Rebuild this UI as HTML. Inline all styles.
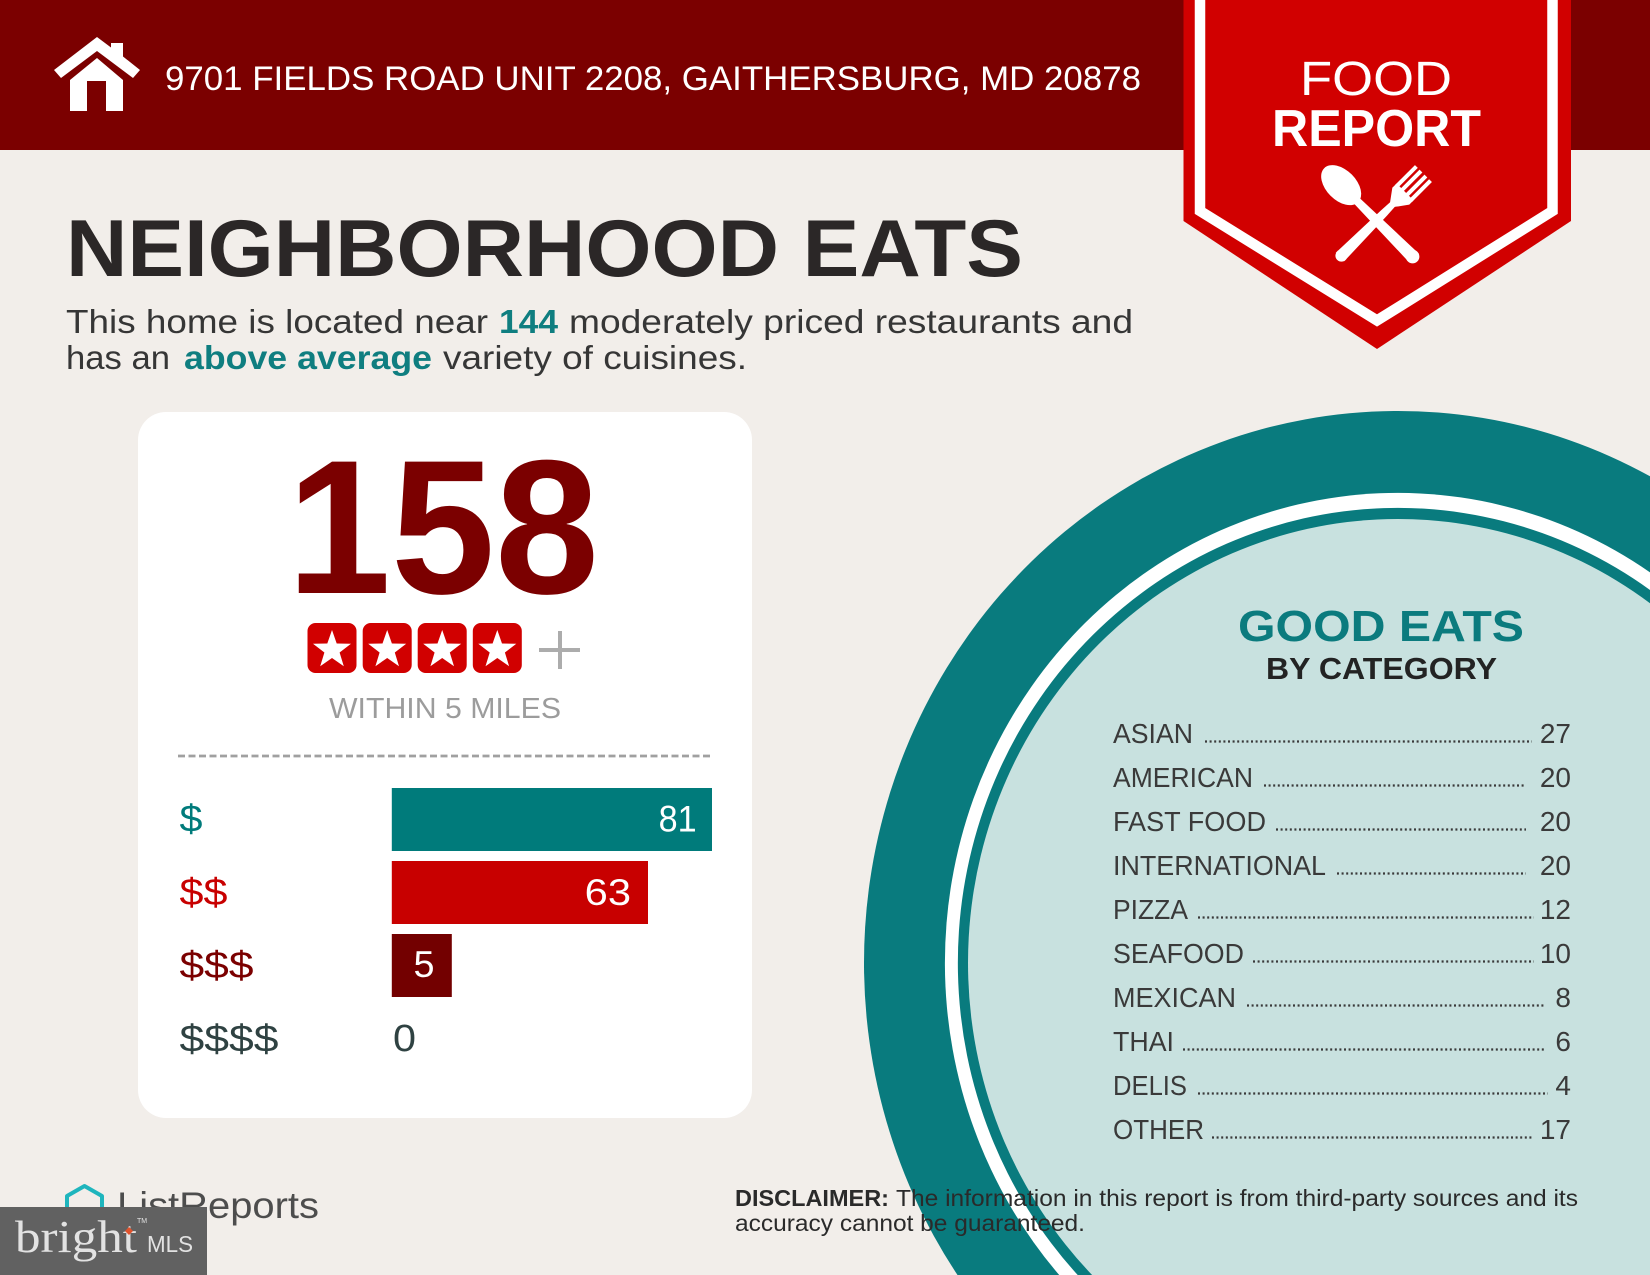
<!DOCTYPE html>
<html>
<head>
<meta charset="utf-8">
<style>
html,body{margin:0;padding:0;background:#f2eeea;width:1650px;height:1275px;overflow:hidden;}
svg{display:block;}
text{font-family:"Liberation Sans",sans-serif;}
</style>
</head>
<body>
<svg width="1650" height="1275" viewBox="0 0 1650 1275" xmlns="http://www.w3.org/2000/svg" style="overflow:hidden">
<defs>
<path id="star" d="M0,-20 L4.7,-6.5 L19,-6.2 L7.6,2.5 L11.8,16.2 L0,8 L-11.8,16.2 L-7.6,2.5 L-19,-6.2 L-4.7,-6.5 Z" fill="#ffffff"/>
</defs>
<rect width="1650" height="1275" fill="#f2eeea"/>
<!-- header band -->
<rect x="0" y="0" width="1650" height="150" fill="#7b0000"/>
<!-- house icon -->
<polygon points="54,70 97,37 111,47.5 111,43 123,43 123,56.5 140,70 133,78 97,51 61,78" fill="#ffffff"/>
<polygon points="70,111 70,80 97,58 123,80 123,111" fill="#ffffff"/>
<rect x="87" y="81" width="19" height="30" fill="#7b0000"/>
<text x="165" y="90" font-size="34" fill="#ffffff" textLength="976" lengthAdjust="spacingAndGlyphs">9701 FIELDS ROAD UNIT 2208, GAITHERSBURG, MD 20878</text>

<!-- banner -->
<polygon points="1183.5,0 1571,0 1571,221 1377,349 1183.5,221" fill="#d10000"/>
<polyline points="1200,0 1200,211 1377,320.5 1552.5,211 1552.5,0" fill="none" stroke="#ffffff" stroke-width="10.5"/>
<text x="1300" y="95" font-size="48" fill="#ffffff" textLength="152" lengthAdjust="spacingAndGlyphs">FOOD</text>
<text x="1272" y="146" font-size="52" font-weight="bold" fill="#ffffff" textLength="209" lengthAdjust="spacingAndGlyphs">REPORT</text>
<!-- spoon -->
<g transform="translate(1414,258) rotate(-45)">
  <path d="M-6.5,0 L6.5,0 L4,-80 L-4,-80 Z" fill="#ffffff"/>
  <circle cx="0" cy="-2" r="6.8" fill="#ffffff"/>
  <ellipse cx="0" cy="-103" rx="15" ry="24" fill="#ffffff"/>
</g>
<!-- fork -->
<g transform="translate(1340,257) rotate(45)">
  <path d="M-6,0 L6,0 L4,-62 L3.2,-76 L-3.2,-76 L-4,-62 Z" fill="#ffffff"/>
  <circle cx="0" cy="-2" r="6" fill="#ffffff"/>
  <path d="M-3.2,-74 L3.2,-74 L12,-86 L12,-92 L-12,-92 L-12,-86 Z" fill="#ffffff"/>
  <rect x="-12" y="-118" width="4" height="28" fill="#ffffff"/>
  <rect x="-5.5" y="-118" width="4" height="28" fill="#ffffff"/>
  <rect x="1.5" y="-118" width="4" height="28" fill="#ffffff"/>
  <rect x="8" y="-118" width="4" height="28" fill="#ffffff"/>
</g>

<!-- title -->
<text x="66" y="276" font-size="81" font-weight="bold" fill="#2b2727" textLength="957" lengthAdjust="spacingAndGlyphs">NEIGHBORHOOD EATS</text>
<text x="66" y="333" font-size="33" fill="#363636" textLength="422" lengthAdjust="spacingAndGlyphs">This home is located near</text>
<text x="499" y="333" font-size="33" font-weight="bold" fill="#0f7e80" textLength="59" lengthAdjust="spacingAndGlyphs">144</text>
<text x="569" y="333" font-size="33" fill="#363636" textLength="564" lengthAdjust="spacingAndGlyphs">moderately priced restaurants and</text>
<text x="66" y="369" font-size="33" fill="#363636" textLength="104" lengthAdjust="spacingAndGlyphs">has an</text>
<text x="184" y="369" font-size="33" font-weight="bold" fill="#0f7e80" textLength="248" lengthAdjust="spacingAndGlyphs">above average</text>
<text x="443" y="369" font-size="33" fill="#363636" textLength="304" lengthAdjust="spacingAndGlyphs">variety of cuisines.</text>

<!-- card -->
<rect x="138" y="412" width="614" height="706" rx="28" ry="28" fill="#ffffff"/>
<text x="287" y="593" font-size="191" font-weight="bold" fill="#7b0000" textLength="312" lengthAdjust="spacingAndGlyphs">158</text>
<rect x="307.5" y="623" width="49" height="50" rx="8" fill="#d10000"/>
<rect x="362.7" y="623" width="49" height="50" rx="8" fill="#d10000"/>
<rect x="417.7" y="623" width="49" height="50" rx="8" fill="#d10000"/>
<rect x="472.8" y="623" width="49" height="50" rx="8" fill="#d10000"/>
<use href="#star" x="332" y="650"/>
<use href="#star" x="387.2" y="650"/>
<use href="#star" x="442.2" y="650"/>
<use href="#star" x="497.3" y="650"/>
<line x1="539" y1="650" x2="580" y2="650" stroke="#acacac" stroke-width="4"/>
<line x1="560" y1="631" x2="560" y2="669" stroke="#acacac" stroke-width="4"/>
<text x="329" y="718" font-size="29" fill="#9c9c9c" textLength="232" lengthAdjust="spacingAndGlyphs">WITHIN 5 MILES</text>
<line x1="178" y1="756" x2="712" y2="756" stroke="#a0a0a0" stroke-width="2.7" stroke-dasharray="7 3.5"/>

<rect x="391.8" y="788" width="320.2" height="63" fill="#007b7b"/>
<rect x="391.8" y="861" width="256.2" height="63" fill="#c80000"/>
<rect x="391.8" y="934" width="60" height="63" fill="#730000"/>
<text x="179.5" y="831.7" font-size="38" fill="#007b7b" textLength="23" lengthAdjust="spacingAndGlyphs">$</text>
<text x="179.5" y="905" font-size="38" fill="#c80000" textLength="48" lengthAdjust="spacingAndGlyphs">$$</text>
<text x="179.5" y="978" font-size="38" fill="#7b0000" textLength="74" lengthAdjust="spacingAndGlyphs">$$$</text>
<text x="179.5" y="1051.7" font-size="38" fill="#2f4242" textLength="99" lengthAdjust="spacingAndGlyphs">$$$$</text>
<text x="658.6" y="831.7" font-size="37" fill="#ffffff" textLength="38" lengthAdjust="spacingAndGlyphs">81</text>
<text x="584.7" y="905" font-size="37" fill="#ffffff" textLength="46.3" lengthAdjust="spacingAndGlyphs">63</text>
<text x="413.5" y="977" font-size="37" fill="#ffffff" textLength="21" lengthAdjust="spacingAndGlyphs">5</text>
<text x="393" y="1051" font-size="38" fill="#2f4242" textLength="23" lengthAdjust="spacingAndGlyphs">0</text>

<!-- circle (arcs clipped geometrically to the frame) -->
<path d="M957.5,1275 A534,552 0 0 1 1650,476.3 L1650,1275 Z" fill="#097b7e"/>
<path d="M1059.2,1275 A453,470 0 0 1 1650,572.4 L1650,1275 Z" fill="#ffffff"/>
<path d="M1077.7,1275 A440,455 0 0 1 1650,590 L1650,1275 Z" fill="#097b7e"/>
<path d="M1092.1,1275 A430,444 0 0 1 1650,603.2 L1650,1275 Z" fill="#c8e1df"/>

<text x="1238" y="641" font-size="44" font-weight="bold" fill="#0b7b7e" textLength="286" lengthAdjust="spacingAndGlyphs">GOOD EATS</text>
<text x="1266" y="679" font-size="31" font-weight="bold" fill="#232323" textLength="231" lengthAdjust="spacingAndGlyphs">BY CATEGORY</text>

<g font-size="28" fill="#3a3a3a">
<text x="1113" y="743" textLength="80" lengthAdjust="spacingAndGlyphs">ASIAN</text>
<text x="1571" y="743" text-anchor="end">27</text>
<text x="1113" y="787" textLength="140" lengthAdjust="spacingAndGlyphs">AMERICAN</text>
<text x="1571" y="787" text-anchor="end">20</text>
<text x="1113" y="831" textLength="153" lengthAdjust="spacingAndGlyphs">FAST FOOD</text>
<text x="1571" y="831" text-anchor="end">20</text>
<text x="1113" y="875" textLength="213" lengthAdjust="spacingAndGlyphs">INTERNATIONAL</text>
<text x="1571" y="875" text-anchor="end">20</text>
<text x="1113" y="919" textLength="75" lengthAdjust="spacingAndGlyphs">PIZZA</text>
<text x="1571" y="919" text-anchor="end">12</text>
<text x="1113" y="963" textLength="131" lengthAdjust="spacingAndGlyphs">SEAFOOD</text>
<text x="1571" y="963" text-anchor="end">10</text>
<text x="1113" y="1007" textLength="123" lengthAdjust="spacingAndGlyphs">MEXICAN</text>
<text x="1571" y="1007" text-anchor="end">8</text>
<text x="1113" y="1051" textLength="61" lengthAdjust="spacingAndGlyphs">THAI</text>
<text x="1571" y="1051" text-anchor="end">6</text>
<text x="1113" y="1095" textLength="74" lengthAdjust="spacingAndGlyphs">DELIS</text>
<text x="1571" y="1095" text-anchor="end">4</text>
<text x="1113" y="1139" textLength="91" lengthAdjust="spacingAndGlyphs">OTHER</text>
<text x="1571" y="1139" text-anchor="end">17</text>
</g>
<g stroke="#3a3a3a" stroke-width="2.2" stroke-dasharray="2 2.6">
<line x1="1205" y1="741.5" x2="1532" y2="741.5"/>
<line x1="1264" y1="785.5" x2="1526" y2="785.5"/>
<line x1="1276" y1="829.5" x2="1526" y2="829.5"/>
<line x1="1337" y1="873.5" x2="1526" y2="873.5"/>
<line x1="1198" y1="917.5" x2="1534" y2="917.5"/>
<line x1="1253" y1="961.5" x2="1534" y2="961.5"/>
<line x1="1247" y1="1005.5" x2="1544" y2="1005.5"/>
<line x1="1183" y1="1049.5" x2="1544" y2="1049.5"/>
<line x1="1198" y1="1093.5" x2="1548" y2="1093.5"/>
<line x1="1212" y1="1137.5" x2="1534" y2="1137.5"/>
</g>

<!-- disclaimer -->
<text x="735" y="1206" font-size="23" font-weight="bold" fill="#2a2a2a" textLength="154" lengthAdjust="spacingAndGlyphs">DISCLAIMER:</text>
<text x="896" y="1206" font-size="23" fill="#2a2a2a" textLength="682" lengthAdjust="spacingAndGlyphs">The information in this report is from third-party sources and its</text>
<text x="735" y="1231" font-size="23" fill="#2a2a2a" textLength="350" lengthAdjust="spacingAndGlyphs">accuracy cannot be guaranteed.</text>

<!-- ListReports -->
<polyline points="67,1218 67,1196 84.5,1186 102,1196 102,1218" fill="none" stroke="#1fb5bd" stroke-width="4" stroke-linejoin="round"/>
<text x="117" y="1218" font-size="37" fill="#4d4d4d" textLength="202" lengthAdjust="spacingAndGlyphs">ListReports</text>

<!-- bright MLS -->
<rect x="0" y="1207" width="207" height="68" fill="#616161"/>
<text x="15" y="1252" font-size="46" fill="#e2e2e2" textLength="122" lengthAdjust="spacingAndGlyphs" style="font-family:'Liberation Serif',serif">bright</text>
<polygon points="129,1227 133,1231 129,1235 125,1231" fill="#e0522c"/>
<text x="137" y="1223" font-size="7" fill="#e2e2e2">TM</text>
<text x="147" y="1252" font-size="23" fill="#e2e2e2" textLength="46" lengthAdjust="spacingAndGlyphs">MLS</text>
</svg>
</body>
</html>
